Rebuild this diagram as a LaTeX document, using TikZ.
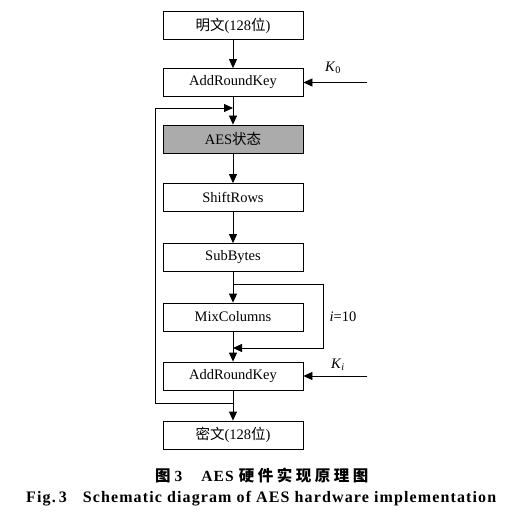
\documentclass[tikz,border=0pt]{standalone}
\usepackage{fontspec}
\setmainfont{Liberation Serif}
\newfontfamily\cjk{Noto Sans CJK SC}
\newfontfamily\capfont{Liberation Serif}[LetterSpace=7]
\usetikzlibrary{arrows.meta}
\newcommand\cjs{\hspace{3.5pt}}
\begin{document}
\begin{tikzpicture}[x=1pt,y=-1pt,
  box/.style={draw,line width=0.8pt,minimum width=140pt,minimum height=28pt,inner sep=0pt,font=\fontsize{14.5}{16}\selectfont},
  conn/.style={line width=0.8pt,-{Triangle[length=9pt,width=8pt]}},
  lab/.style={font=\fontsize{14.5}{16}\selectfont,inner sep=0pt}]
\useasboundingbox[fill=white] (0,0) rectangle (512,518);
\node[box] (pt) at (233,25.5) {{\cjk 明文}(128{\cjk 位})};
\node[box] (ark0) at (233,82.5) {AddRoundKey};
\node[box,fill=black!33] (st) at (233,139) {AES{\cjk 状态}};
\node[box] (sr) at (233,197.5) {ShiftRows};
\node[box] (sb) at (233,257.5) {SubBytes};
\node[box] (mc) at (233,317) {MixColumns};
\node[box] (ark) at (233,376) {AddRoundKey};
\node[box] (ct) at (233,435) {{\cjk 密文}(128{\cjk 位})};
\coordinate (k0in) at (367,82.5);
\coordinate (kiin) at (367,376);
\coordinate (fbin) at (233,108);
\coordinate (fbout) at (233,403);
\coordinate (lpout) at (233,284);
\coordinate (lpin) at (233,348);
\node[lab] (k0) at (333,68) {\textit{K}\textsubscript{0}};
\node[lab] (ki) at (338,365) {\textit{K}\textsubscript{\textit{i}}};
\node[lab] (it) at (343,317) {\textit{i}=10};
\draw[conn] (pt) -- (ark0);
\draw[conn] (ark0) -- (st);
\draw[conn] (st) -- (sr);
\draw[conn] (sr) -- (sb);
\draw[conn] (sb) -- (mc);
\draw[conn] (mc) -- (ark);
\draw[conn] (ark) -- (ct);
\draw[conn] (k0in) -- (ark0.east);
\draw[conn] (kiin) -- (ark.east);
\draw[conn] (lpout) -- (323,284) -- (323,348) -- (lpin);
\draw[conn] (fbout) -- (155,403) -- (155,108) -- (fbin);
\node[font=\fontsize{15.5}{17}\selectfont\bfseries,anchor=west,inner sep=0pt] (cap1) at (155,475) {{\cjk 图}\hspace{4pt}3\hspace{19pt}{\capfont AES}\hspace{5pt}{\cjk 硬\cjs 件\cjs 实\cjs 现\cjs 原\cjs 理\cjs 图}};
\node[font=\fontsize{16}{18}\capfont\bfseries,anchor=west,inner sep=0pt] (cap2) at (26,499) {Fig.\hspace{3pt}3\hspace{16pt}Schematic diagram of AES hardware implementation};
\end{tikzpicture}
\end{document}
